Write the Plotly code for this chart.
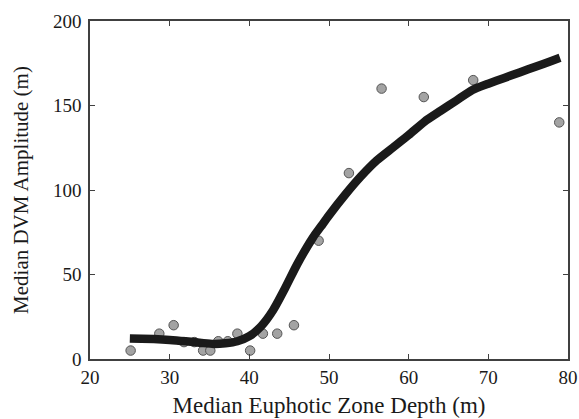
import plotly.graph_objects as go

# Observed medians per site
euphotic_depth = [25.1, 28.7, 30.5, 31.8, 33.1, 34.2, 35.1, 36.1, 37.3, 38.5,
                  40.1, 41.7, 43.5, 45.6, 48.7, 52.5, 56.6, 61.9, 68.1, 78.9]
dvm_amplitude = [5, 15, 20, 10, 10, 5, 5, 10.5, 10.5, 15,
                 5, 15, 15, 20, 70, 110, 160, 155, 165, 140]

# Smoothed trend
fit_x = [25, 28, 30, 32, 34, 35.5, 37, 38.5, 40, 41.5, 43, 44.5, 46, 48, 49, 50,
         52, 54, 56, 58, 60, 62, 64, 66, 68, 70, 72, 74, 76, 78, 79]
fit_y = [12.2, 11.8, 11.3, 10.5, 9.5, 8.9, 9.3, 10.5, 13.5, 19.5, 29, 42, 56, 72,
         78.5, 85, 97, 108, 117.5, 125, 132.5, 140.5, 146.8, 153, 159.2, 162.9,
         166.3, 169.7, 173.1, 176.5, 178.2]

x_ticks = [20, 30, 40, 50, 60, 70, 80]
y_ticks = [0, 50, 100, 150, 200]

fig = go.Figure()
fig.add_trace(go.Scatter(
    x=euphotic_depth, y=dvm_amplitude, mode="markers",
    marker=dict(size=9.5, color="#a3a3a3", line=dict(color="#555555", width=1)),
    showlegend=False,
))
fig.add_trace(go.Scatter(
    x=fit_x, y=fit_y, mode="lines",
    line=dict(color="#1a1a1a", width=8.5, shape="spline", smoothing=0.6),
    showlegend=False,
))

axis_common = dict(
    showgrid=False, zeroline=False, showline=True, linecolor="#404040",
    linewidth=1.5, mirror="ticks", ticks="inside", ticklen=5,
    tickcolor="#404040", tickwidth=1.2, automargin=False,
    tickfont=dict(family="Liberation Serif", size=19, color="#1a1a1a"),
)

fig.update_layout(
    width=579, height=419,
    margin=dict(l=90, r=11, t=21, b=60),
    paper_bgcolor="white", plot_bgcolor="white",
    xaxis=dict(range=[20, 80], tickvals=x_ticks,
               title=dict(text="Median Euphotic Zone Depth (m)", standoff=10,
                          font=dict(family="Liberation Serif", size=23, color="#1a1a1a")),
               **axis_common),
    yaxis=dict(range=[0, 200], tickvals=y_ticks, ticklabelstandoff=3,
               title=dict(text="Median DVM Amplitude (m)", standoff=19,
                          font=dict(family="Liberation Serif", size=21, color="#1a1a1a")),
               **axis_common),
)

fig.write_html("out.html")
